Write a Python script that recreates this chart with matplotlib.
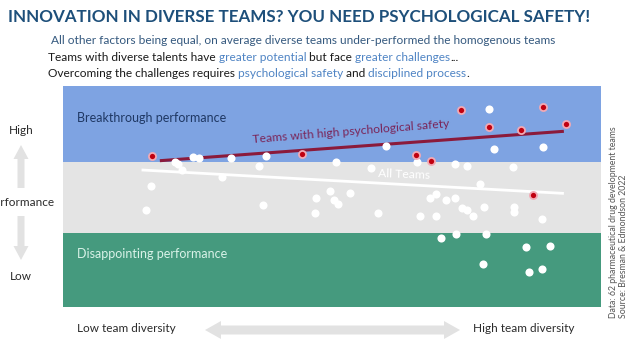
import matplotlib
matplotlib.use("Agg")
import matplotlib.pyplot as plt
from matplotlib.patches import FancyArrow

plt.rcParams['font.family'] = ['Lato', 'DejaVu Sans']

# ---------------- data (diversity 0-100, performance 0-100) ----------------
high_ps_x = [16.5, 44.4, 65.6, 68.4, 74.0, 89.2, 79.2, 85.1, 93.5, 87.4]
high_ps_y = [68.3, 69.2, 68.8, 66.1, 89.1, 90.5, 81.4, 80.1, 82.8, 50.7]

other_x = [24.2, 25.2, 20.8, 21.3, 22.2, 31.3, 37.8, 36.4, 29.5, 16.4,
           15.5, 37.1, 47.0, 46.8, 60.1, 50.8, 57.3, 65.8, 72.9, 75.0,
           83.7, 79.2, 80.2, 89.3, 77.5, 49.6, 53.3, 50.3, 51.2, 68.2,
           69.4, 71.2, 72.9, 74.2, 75.0, 76.3, 78.3, 83.9, 83.8, 58.6,
           66.4, 69.4, 89.1, 70.2, 73.0, 78.6, 86.0, 90.5, 78.0, 86.7,
           89.1]
other_y = [67.9, 67.2, 65.4, 64.9, 62.2, 67.4, 68.1, 64.0, 58.6, 54.8,
           44.1, 46.2, 49.1, 42.5, 72.9, 65.8, 63.1, 65.8, 64.9, 63.6,
           63.3, 89.8, 71.7, 72.4, 55.7, 52.5, 51.4, 48.6, 46.8, 49.5,
           51.1, 48.2, 49.1, 44.8, 43.9, 41.4, 45.2, 45.2, 43.2, 42.5,
           41.4, 41.0, 40.0, 31.0, 33.2, 33.2, 27.1, 27.6, 19.5, 15.8,
           17.0]

fit_x = [18.0, 93.1]
high_ps_fit_y = [66.2, 79.5]
all_fit_x = [14.6, 93.1]
all_fit_y = [62.0, 51.4]

band_edges = [0, 33.5, 65.7, 100]
band_labels = ["Disappointing performance", "", "Breakthrough performance"]

# ---------------- figure ----------------
W, H = 642, 349
fig = plt.figure(figsize=(W / 100, H / 100), dpi=100)

# overlay in pixel coordinates for annotations
ov = fig.add_axes([0, 0, 1, 1])
ov.set_xlim(0, W)
ov.set_ylim(H, 0)
ov.axis('off')

# main plot
L, R, T, B = 63, 601, 86, 307
ax = fig.add_axes([L / W, 1 - B / H, (R - L) / W, (B - T) / H])
ax.set_xlim(0, 100)
ax.set_ylim(0, 100)
ax.axis('off')

band_colors = ['#459a7e', '#e4e4e4', '#7ea3e2']
for i, c in enumerate(band_colors):
    ax.axhspan(band_edges[i], band_edges[i + 1], color=c, zorder=0, lw=0)

ax.text(2.6, 85.5, band_labels[2], color='#1f3864', fontsize=9, va='center', ha='left')
ax.text(2.6, 24, band_labels[0], color='#d9f2e8', fontsize=9, va='center', ha='left')

ax.plot(all_fit_x, all_fit_y, color='white', lw=2, zorder=2, solid_capstyle='butt')
ax.plot(fit_x, high_ps_fit_y, color='#8b1a3b', lw=2.2, zorder=2, solid_capstyle='butt')

ax.scatter(other_x, other_y, s=34, color='white', lw=0, zorder=3)
ax.scatter(high_ps_x, high_ps_y, s=26, color='#c00010', edgecolors='#f2a9b4', lw=1.3, zorder=4)

ax.text(35.3, 74.2, "Teams with high psychological safety", color='#7a2458', fontsize=8.7,
        rotation=4.6, rotation_mode='anchor', ha='left', va='baseline')
ax.text(58.6, 58.8, "All Teams", color='white', fontsize=8.7,
        rotation=-2, rotation_mode='anchor', ha='left', va='baseline')

fig.canvas.draw()
renderer = fig.canvas.get_renderer()


def fit_text(x, y, s, target_w, size, **kw):
    t = ov.text(x, y, s, fontsize=size, **kw)
    w = t.get_window_extent(renderer).width
    t.set_fontsize(size * target_w / w)
    return t


# ---------------- header ----------------
fit_text(8, 17, "INNOVATION IN DIVERSE TEAMS? YOU NEED PSYCHOLOGICAL SAFETY!", 582, 15,
         fontweight='bold', color='#1d4f7a', ha='left', va='center')
fit_text(51, 40, "All other factors being equal, on average diverse teams under-performed the homogenous teams",
         507, 8.5, color='#35597f', ha='left', va='center')


def rich_line(x0, y, pieces, size=8.6):
    x = x0
    for txt, col in pieces:
        t = ov.text(x, y, txt, fontsize=size, color=col, ha='left', va='baseline')
        bb = t.get_window_extent(renderer)
        x += bb.width
    return x


blk = '#1a1a1a'
hl = '#4f84c4'
rich_line(48, 61, [("Teams with diverse talents have ", blk), ("greater potential", hl),
                   (" but face ", blk), ("greater challenges", hl), ("...", blk)])
rich_line(48, 77, [("Overcoming the challenges requires ", blk), ("psychological safety", hl),
                   (" and ", blk), ("disciplined process", hl), (".", blk)])

# ---------------- axis annotations ----------------
arrow_c = '#e2e2e2'
ov.add_patch(FancyArrow(21, 188, 0, -43, width=7, head_width=15, head_length=14,
                        length_includes_head=True, color=arrow_c, lw=0))
ov.add_patch(FancyArrow(21, 216, 0, 44, width=7, head_width=15, head_length=14,
                        length_includes_head=True, color=arrow_c, lw=0))
ov.add_patch(FancyArrow(333, 330, 127, 0, width=9, head_width=18, head_length=16,
                        length_includes_head=True, color=arrow_c, lw=0))
ov.add_patch(FancyArrow(333, 330, -128, 0, width=9, head_width=18, head_length=16,
                        length_includes_head=True, color=arrow_c, lw=0))

lab_c = '#2b2b2b'
ov.text(21, 130, "High", fontsize=8.5, color=lab_c, ha='center', va='center')
ov.text(21, 203, "Performance", fontsize=8.5, color=lab_c, ha='center', va='center')
ov.text(21, 276, "Low", fontsize=8.5, color=lab_c, ha='center', va='center')
ov.text(77, 329, "Low team diversity", fontsize=8.5, color=lab_c, ha='left', va='center')
ov.text(473, 329, "High team diversity", fontsize=8.5, color=lab_c, ha='left', va='center')

ov.text(613, 318, "Data: 62 pharmaceutical drug development teams", fontsize=6.3, color='#555555',
        rotation=90, rotation_mode='anchor', ha='left', va='center')
ov.text(624, 318, "Source: Bresman & Edmondson 2022", fontsize=6.3, color='#555555',
        rotation=90, rotation_mode='anchor', ha='left', va='center')

fig.savefig("out.png", dpi=100)
